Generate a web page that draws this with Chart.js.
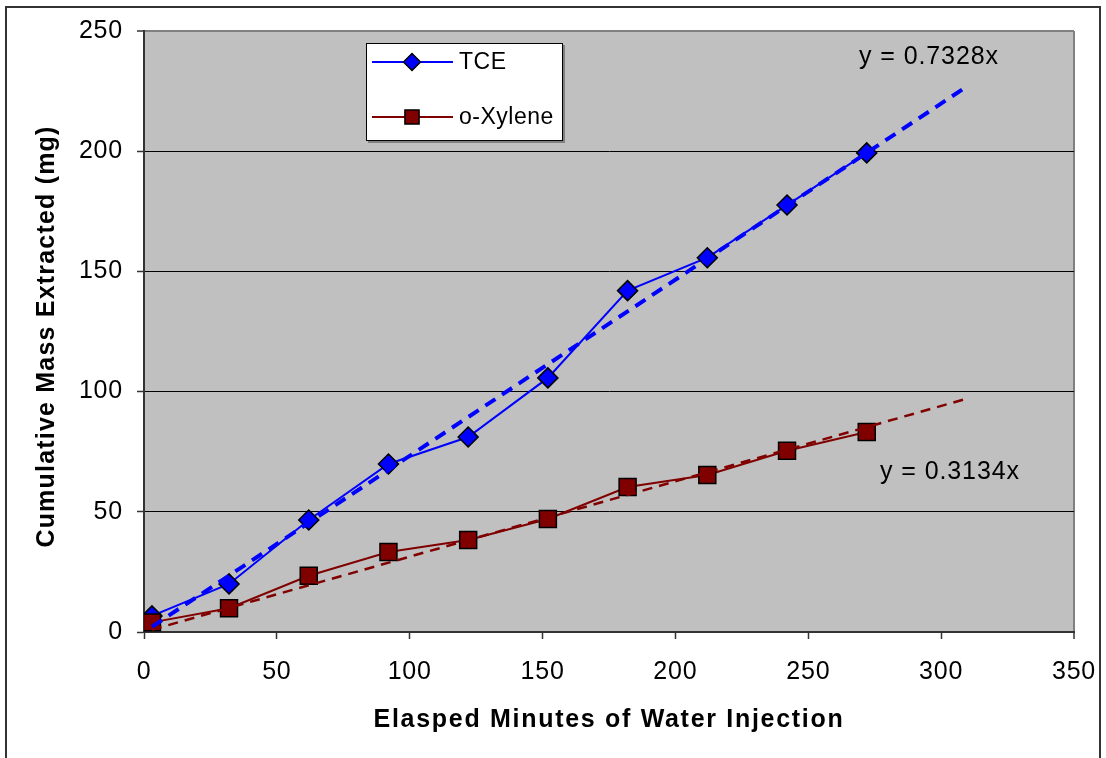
<!DOCTYPE html>
<html>
<head>
<meta charset="utf-8">
<script src="https://cdn.jsdelivr.net/npm/chart.js@4.4.1/dist/chart.umd.min.js"></script>
<style>
  body { margin: 0; background: #fff; }
  #wrap { width: 1106px; height: 758px; }
</style>
</head>
<body>
<div id="wrap"><canvas id="canvas" width="1106" height="758"></canvas></div>
<script>
// values
var minutes = [3, 32, 62, 92, 122, 152, 182, 212, 242, 272];
var tce     = [6.7, 20.0, 46.6, 69.9, 81.1, 105.7, 142.0, 155.7, 177.6, 199.3];
var xylene  = [4.0, 9.9, 23.4, 33.3, 38.3, 47.0, 60.3, 65.3, 75.4, 83.2];

// linear fits through the origin, as printed on the chart
var tceSlope = 0.7328;
var xyleneSlope = 0.3134;
var trendStart = 3;
var trendEnd = 309;

var xTicks = [0, 50, 100, 150, 200, 250, 300, 350];
var yTicks = [0, 50, 100, 150, 200, 250];

var FONT = "'Liberation Sans', Arial, sans-serif";

function pts(xs, ys) {
  return xs.map(function (x, i) { return { x: x, y: ys[i] }; });
}
function trend(slope) {
  return [{ x: trendStart, y: slope * trendStart }, { x: trendEnd, y: slope * trendEnd }];
}

var tceSet = {
  label: 'TCE', data: pts(minutes, tce), showLine: true,
  borderColor: '#0000FF', borderWidth: 2,
  pointStyle: 'rectRot', pointRadius: 10, pointHoverRadius: 10,
  pointBackgroundColor: '#0000FF', pointBorderColor: '#000', pointBorderWidth: 1.5
};
var xylSet = {
  label: 'o-Xylene', data: pts(minutes, xylene), showLine: true,
  borderColor: '#800000', borderWidth: 2,
  pointStyle: 'rect', pointRadius: 12, pointHoverRadius: 12,
  pointBackgroundColor: '#800000', pointBorderColor: '#000', pointBorderWidth: 1.5
};

var decor = {
  id: 'decor',
  beforeDraw: function (chart) {
    var ctx = chart.ctx, a = chart.chartArea;
    ctx.save();
    ctx.fillStyle = '#fff';
    ctx.fillRect(0, 0, chart.width, chart.height);
    ctx.fillStyle = '#C0C0C0';
    ctx.fillRect(a.left, a.top, a.right - a.left, a.bottom - a.top);
    ctx.restore();
    ctx.letterSpacing = '0.8px';
  },
  afterDraw: function (chart) {
    var ctx = chart.ctx, a = chart.chartArea;
    var xs = chart.scales.x, ys = chart.scales.y;
    ctx.save();

    // legend box
    ctx.letterSpacing = '0.5px';
    ctx.fillStyle = '#808080';
    ctx.fillRect(368, 45, 197, 98);
    ctx.fillStyle = '#fff';
    ctx.fillRect(366, 43, 197, 98);
    ctx.strokeStyle = '#000';
    ctx.lineWidth = 1;
    ctx.strokeRect(366.5, 43.5, 196, 97);
    var items = [[tceSet, 62, 8.5], [xylSet, 117, 10]];
    items.forEach(function (it) {
      var ds = it[0], y = it[1];
      ctx.strokeStyle = ds.borderColor;
      ctx.lineWidth = ds.borderWidth;
      ctx.beginPath();
      ctx.moveTo(372, y);
      ctx.lineTo(453, y);
      ctx.stroke();
      ctx.fillStyle = ds.pointBackgroundColor;
      ctx.strokeStyle = ds.pointBorderColor;
      ctx.lineWidth = 1.5;
      Chart.helpers.drawPoint(ctx, { pointStyle: ds.pointStyle, radius: it[2], rotation: 0, borderWidth: 1.5 }, 412, y);
      ctx.fillStyle = '#000';
      ctx.font = '23px ' + FONT;
      ctx.textAlign = 'left';
      ctx.textBaseline = 'middle';
      ctx.fillText(ds.label, 459, y + 1);
    });

    // trendline equations
    ctx.letterSpacing = '0.9px';
    ctx.font = '25px ' + FONT;
    ctx.fillStyle = '#000';
    ctx.textAlign = 'left';
    ctx.textBaseline = 'middle';
    var ex = xs.getPixelForValue(trendEnd);
    ctx.fillText('y = ' + tceSlope.toFixed(4) + 'x', ex - 106, ys.getPixelForValue(tceSlope * trendEnd) - 31);
    ctx.fillText('y = ' + xyleneSlope.toFixed(4) + 'x', ex - 85, ys.getPixelForValue(xyleneSlope * trendEnd) + 73);

    // axis titles
    ctx.font = 'bold 25px ' + FONT;
    ctx.letterSpacing = '1.7px';
    ctx.textAlign = 'center';
    ctx.textBaseline = 'alphabetic';
    ctx.fillText('Elasped Minutes of Water Injection', (a.left + a.right) / 2, 727);
    ctx.letterSpacing = '1.2px';
    ctx.translate(54, (a.top + a.bottom) / 2 + 5);
    ctx.rotate(-Math.PI / 2);
    ctx.fillText('Cumulative Mass Extracted (mg)', 0, 0);
    ctx.restore();

    // outer frame
    ctx.save();
    ctx.strokeStyle = '#333';
    ctx.lineWidth = 2;
    ctx.strokeRect(6, 7, 1094, 800);
    ctx.restore();
  }
};

var config = {
  type: 'scatter',
  data: {
    datasets: [
      { label: 'TCE fit', data: trend(tceSlope), showLine: true, borderColor: '#0000FF',
        borderWidth: 4, borderDash: [12, 8], pointRadius: 0, pointHoverRadius: 0 },
      { label: 'o-Xylene fit', data: trend(xyleneSlope), showLine: true, borderColor: '#800000',
        borderWidth: 2.5, borderDash: [10, 7], pointRadius: 0, pointHoverRadius: 0 },
      xylSet,
      tceSet
    ]
  },
  options: {
    responsive: false,
    animation: false,
    layout: { padding: { top: 31, right: 32, bottom: 0, left: 0 } },
    plugins: { legend: { display: false }, tooltip: { enabled: false } },
    scales: {
      x: {
        type: 'linear', min: 0, max: 350,
        afterBuildTicks: function (s) { s.ticks = xTicks.map(function (v) { return { value: v }; }); },
        afterFit: function (s) { s.height = 126; s.paddingLeft = 10; s.paddingRight = 10; },
        ticks: { font: { size: 25, family: FONT }, color: '#000', padding: 18, maxRotation: 0 },
        grid: {
          drawOnChartArea: true, tickLength: 7, tickColor: '#333', tickWidth: 1.5,
          color: function (c) { return c.tick && c.tick.value === 350 ? '#808080' : 'rgba(0,0,0,0)'; },
          lineWidth: function (c) { return c.tick && c.tick.value === 350 ? 2 : 1; }
        },
        border: { color: '#333', width: 2 }
      },
      y: {
        min: 0, max: 250,
        afterBuildTicks: function (s) { s.ticks = yTicks.map(function (v) { return { value: v }; }); },
        afterFit: function (s) { s.width = 144; s.paddingTop = 10; s.paddingBottom = 10; },
        ticks: { font: { size: 25, family: FONT }, color: '#000', padding: 14 },
        grid: {
          drawOnChartArea: true, tickLength: 7, tickColor: '#333', tickWidth: 1.5,
          color: function (c) {
            if (!c.tick) return '#000';
            if (c.tick.value === 250) return '#808080';
            if (c.tick.value === 0) return 'rgba(0,0,0,0)';
            return '#000';
          },
          lineWidth: function (c) { return c.tick && c.tick.value === 250 ? 2 : 1; }
        },
        border: { color: '#333', width: 2 }
      }
    }
  },
  plugins: [decor]
};

window.onload = function () {
  window.myChart = new Chart(document.getElementById('canvas'), config);
};
</script>
</body>
</html>
